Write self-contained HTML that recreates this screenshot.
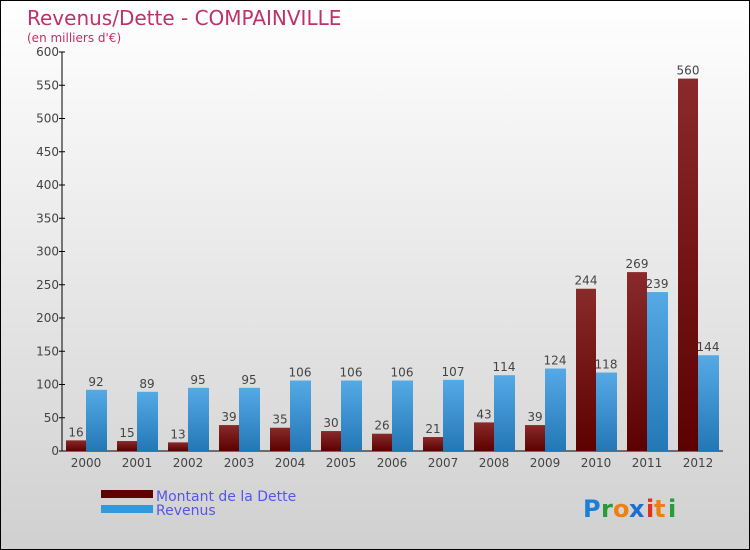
<!DOCTYPE html>
<html><head><meta charset="utf-8"><style>
body{margin:0}
#c{width:750px;height:550px;position:relative;box-sizing:border-box;border:1px solid #000;background:linear-gradient(#fff,#d0d0d0);font-family:"DejaVu Sans","Liberation Sans",sans-serif;overflow:hidden}
</style></head><body>
<div id="c">
<svg width="750" height="550" id="s">
<defs>
<linearGradient id="gd" x1="0" x2="0" y1="0" y2="1"><stop offset="0" stop-color="#8a2a2a"/><stop offset="1" stop-color="#5c0000"/></linearGradient>
<linearGradient id="gr" x1="0" x2="0" y1="0" y2="1"><stop offset="0" stop-color="#55aae6"/><stop offset="1" stop-color="#2477b5"/></linearGradient>
</defs>
<text x="26" y="24" font-size="20" fill="#c0306a">Revenus/Dette - COMPAINVILLE</text>
<text x="26" y="41" font-size="12" fill="#c0306a">(en milliers d'€)</text>
<g id="ax"></g><g id="bars"></g>
<rect x="100" y="489" width="52" height="8" fill="#600000"/>
<rect x="100" y="504" width="52" height="8" fill="#3399dd"/>
<text x="155" y="500" font-size="14" fill="#5555ee">Montant de la Dette</text>
<text x="155" y="514" font-size="14" fill="#5555ee">Revenus</text>
<g font-size="24" font-weight="bold">
<text x="582" y="516" fill="#1a7fd6">P</text><text x="600" y="516" fill="#2a9a3a">r</text><text x="612" y="516" fill="#f07f10">o</text><text x="628" y="516" fill="#1a6fd0">x</text><text x="645" y="516" fill="#e03020">i</text><text x="653" y="516" fill="#f07f10">t</text><text x="667" y="516" fill="#2a9a3a">i</text></g>
</svg></div>
<script>
const years=["2000","2001","2002","2003","2004","2005","2006","2007","2008","2009","2010","2011","2012"];
const dette=[16,15,13,39,35,30,26,21,43,39,244,269,560];
const revenus=[92,89,95,95,106,106,106,107,114,124,118,239,144];
const ticks=[0,50,100,150,200,250,300,350,400,450,500,550,600];
const NS="http://www.w3.org/2000/svg";
const y=v=>450-v*(399/600);
const xc=i=>85+i*51;
function mk(t,a,p){const e=document.createElementNS(NS,t);for(const k in a)e.setAttribute(k,a[k]);p.appendChild(e);return e;}
const ax=document.getElementById('ax'),bars=document.getElementById('bars');
let l=mk('line',{x1:61,x2:61,y1:51,y2:450,stroke:'#000'},ax);


l=mk('line',{x1:61,x2:722,y1:450,y2:450,stroke:'#000'},ax);


ticks.forEach(t=>{
 const m=mk('line',{x1:58,x2:64,y1:y(t),y2:y(t),stroke:'#000'},ax);
 
 
 const tx=mk('text',{x:58,y:y(t)+4,'text-anchor':'end','font-size':12,fill:'#444'},ax);
 tx.textContent=t;
 
 
});
years.forEach((yr,i)=>{
 const c=xc(i);
 const tx=mk('text',{x:c,y:466,'text-anchor':'middle','font-size':12,fill:'#444'},ax);
 tx.textContent=yr;
 
 
 const b1=mk('rect',{x:c-20,y:y(dette[i]),width:20,height:450-y(dette[i]),fill:'url(#gd)'},bars);
 
 
 const b2=mk('rect',{x:c,y:y(revenus[i]),width:21,height:450-y(revenus[i]),fill:'url(#gr)'},bars);
 
 
 const v1=mk('text',{x:c-10,y:y(dette[i])-4,'text-anchor':'middle','font-size':12,fill:'#444'},bars);
 v1.textContent=dette[i];
 
 
 const v2=mk('text',{x:c+10,y:y(revenus[i])-4,'text-anchor':'middle','font-size':12,fill:'#444'},bars);
 v2.textContent=revenus[i];
 
 
});
</script>
</body></html>
